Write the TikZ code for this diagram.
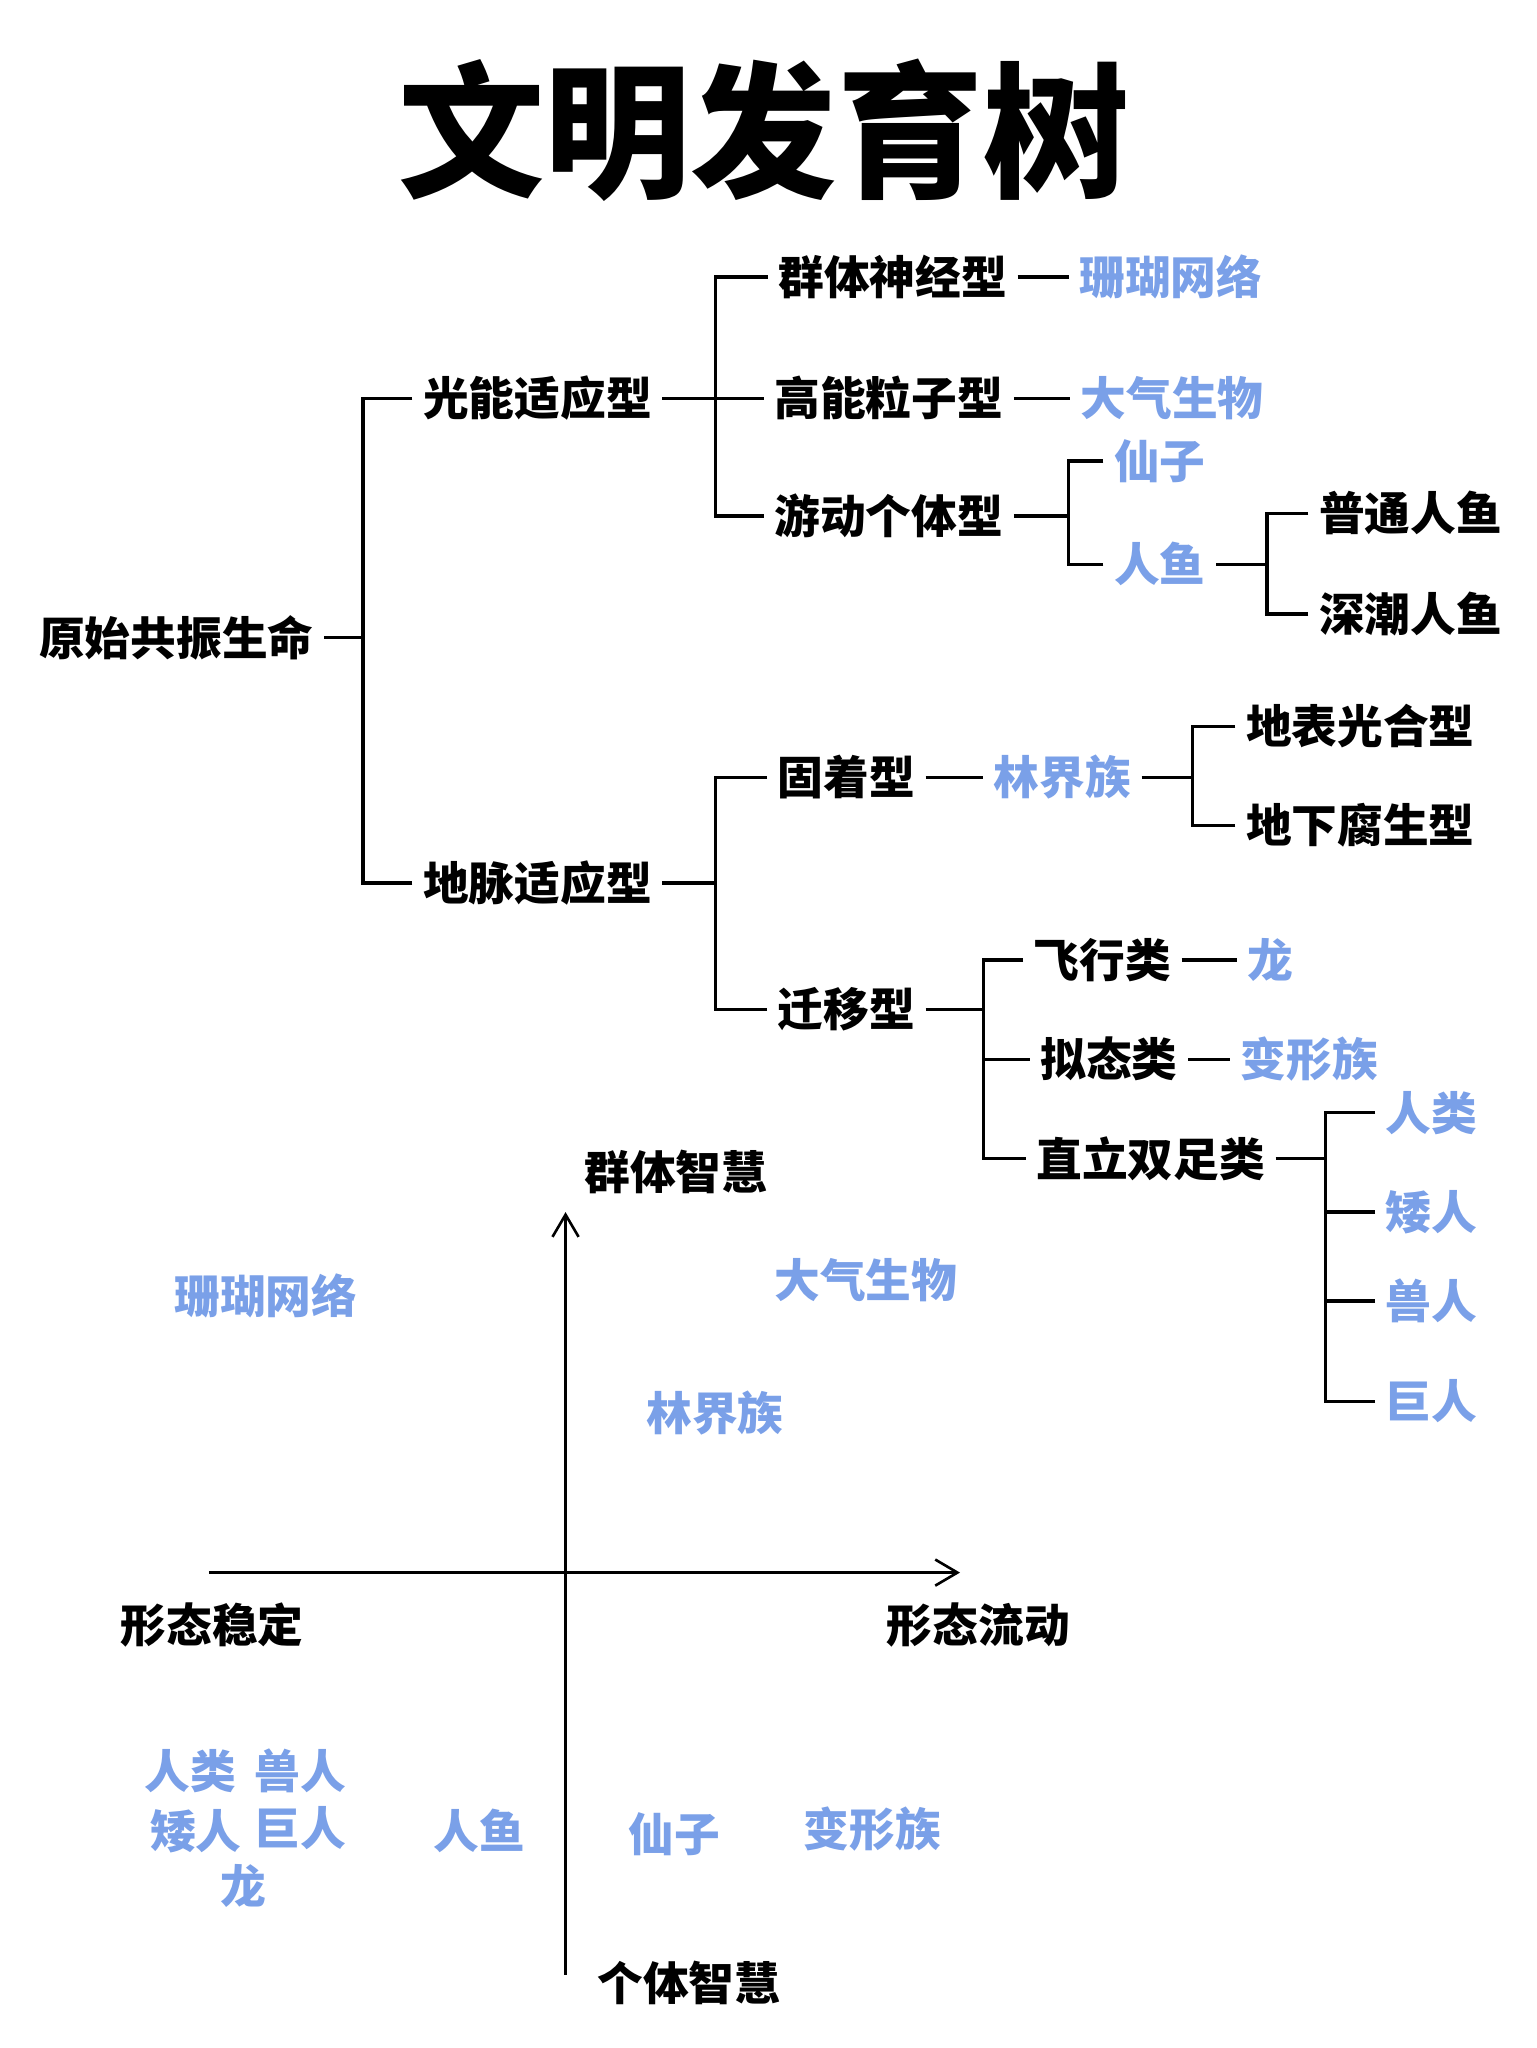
\documentclass[tikz,border=0pt]{standalone}
\usepackage{fontspec}
\setmainfont{Noto Sans CJK SC}
\usepackage{tikz}
\usetikzlibrary{positioning,arrows.meta}
\definecolor{leafblue}{RGB}{122,160,232}

\begin{document}
\begin{tikzpicture}[x=1pt, y=-1pt, font=\fontsize{35}{42}\selectfont\bfseries]
  \tikzstyle{kind} = [inner xsep=8pt, inner ysep=2pt, text=black]
  \tikzstyle{leaf} = [kind, text=leafblue]
  \tikzstyle{branch} = [line width=2.5pt]
  \tikzstyle{axis} = [line width=2pt, -{Straight Barb[length=17pt,width=20pt]}]

  \fill[white] (0,0) rectangle (1176,1568);
  \useasboundingbox (0,0) rectangle (1176,1568);

  \node (title) at (585,100) [font=\fontsize{112}{130}\selectfont\bfseries] {文明发育树};

  % tree
  \node (root) [kind] at (135,488) {原始共振生命};
  \node (guang) [kind] at (411.5,305) {光能适应型};
  \node (dimai) [kind] at (411.5,676) {地脉适应型};

  \node (qunti) [kind] at (683.5,212) {群体神经型};
  \node (shanhu) [leaf, right=39pt of qunti] {珊瑚网络};
  \node (gaoneng) [kind] at (680.5,305) {高能粒子型};
  \node (daqi) [leaf, right=43pt of gaoneng] {大气生物};
  \node (youdong) [kind] at (680.5,395) {游动个体型};
  \node (xianzi) [leaf] at (888,353) {仙子};
  \node (renyu) [leaf] at (888,432) {人鱼};
  \node (putong) [kind] at (1080,393) {普通人鱼};
  \node (shenchao) [kind] at (1080,470) {深潮人鱼};

  \node (guzhe) [kind] at (648,595) {固着型};
  \node (linjie) [leaf, right=44pt of guzhe] {林界族};
  \node (dibiao) [kind] at (1041.5,556) {地表光合型};
  \node (dixia) [kind] at (1041.5,632) {地下腐生型};
  \node (qianyi) [kind] at (648,773) {迁移型};
  \node (feixing) [kind] at (844,735) {飞行类};
  \node (long) [leaf, right=42pt of feixing] {龙};
  \node (nitai) [kind] at (849,811) {拟态类};
  \node (bianxing) [leaf, right=32pt of nitai] {变形族};
  \node (zhili) [kind] at (881,887) {直立双足类};
  \node (renlei) [leaf] at (1096,852) {人类};
  \node (airen) [leaf] at (1096,928) {矮人};
  \node (shouren) [leaf] at (1096,996) {兽人};
  \node (juren) [leaf] at (1096,1073) {巨人};

  \coordinate (rj) at (278,488);
  \coordinate (ja) at (548,305);
  \coordinate (jb) at (818,395);
  \coordinate (jc) at (970,432);
  \coordinate (jd) at (548,676);
  \coordinate (je) at (913,595);
  \coordinate (jf) at (753,773);
  \coordinate (jg) at (1015,887);

  \draw [branch] (root.east) -- (rj);
  \draw [branch] (guang.west) -| (rj);
  \draw [branch] (dimai.west) -| (rj);

  \draw [branch] (guang.east) -- (gaoneng.west);
  \draw [branch] (qunti.west) -| (ja);
  \draw [branch] (youdong.west) -| (ja);
  \draw [branch] (qunti) -- (shanhu);
  \draw [branch] (gaoneng) -- (daqi);

  \draw [branch] (youdong.east) -- (jb);
  \draw [branch] (xianzi.west) -| (jb);
  \draw [branch] (renyu.west) -| (jb);
  \draw [branch] (renyu.east) -- (jc);
  \draw [branch] (putong.west) -| (jc);
  \draw [branch] (shenchao.west) -| (jc);

  \draw [branch] (dimai.east) -- (jd);
  \draw [branch] (guzhe.west) -| (jd);
  \draw [branch] (qianyi.west) -| (jd);
  \draw [branch] (guzhe) -- (linjie);
  \draw [branch] (linjie.east) -- (je);
  \draw [branch] (dibiao.west) -| (je);
  \draw [branch] (dixia.west) -| (je);

  \draw [branch] (qianyi.east) -- (jf);
  \draw [branch] (feixing.west) -| (jf);
  \draw [branch] (nitai.west) -| (jf);
  \draw [branch] (zhili.west) -| (jf);
  \draw [branch] (feixing) -- (long);
  \draw [branch] (nitai) -- (bianxing);
  \draw [branch] (zhili.east) -- (jg);
  \draw [branch] (renlei.west) -| (jg);
  \draw [branch] (airen.west) -| (jg);
  \draw [branch] (shouren.west) -| (jg);
  \draw [branch] (juren.west) -| (jg);

  % quadrant chart
  \coordinate (xl) at (160,1204);
  \coordinate (xr) at (735,1204);
  \coordinate (yb) at (433,1512);
  \coordinate (yt) at (433,928);
  \draw [axis] (xl) -- (xr);
  \draw [axis] (yb) -- (yt);

  \node (qunzhi) [kind] at (517.5,897) {群体智慧};
  \node (getizhi) [kind] at (527.5,1518) {个体智慧};
  \node (wending) [kind] at (162.5,1244) {形态稳定};
  \node (liudong) [kind] at (749,1244) {形态流动};

  \node (q-shanhu) [leaf] at (203.5,992) {珊瑚网络};
  \node (q-daqi) [leaf] at (663,980) {大气生物};
  \node (q-linjie) [leaf] at (547.5,1082) {林界族};
  \node (q-renlei) [leaf] at (146,1356) {人类};
  \node (q-shouren) [leaf] at (230,1356) {兽人};
  \node (q-airen) [leaf] at (150,1402) {矮人};
  \node (q-juren) [leaf] at (230,1400) {巨人};
  \node (q-long) [leaf] at (186,1444) {龙};
  \node (q-renyu) [leaf] at (367,1402) {人鱼};
  \node (q-xianzi) [leaf] at (516.5,1404) {仙子};
  \node (q-bianxing) [leaf] at (668,1400) {变形族};
\end{tikzpicture}
\end{document}
